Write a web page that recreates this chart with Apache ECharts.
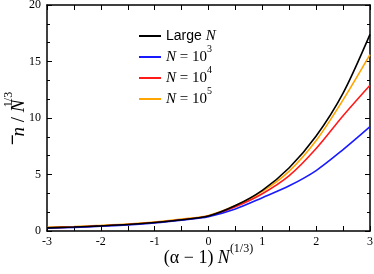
<!DOCTYPE html>
<html>
<head>
<meta charset="utf-8">
<script src="https://cdn.jsdelivr.net/npm/echarts@6/dist/echarts.min.js"></script>
<style>html,body{margin:0;padding:0;background:#fff;}#c{width:374px;height:274px;}</style>
</head>
<body>
<div id="c"></div>
<script>
// Data
const xs = [-3, -2.5, -2, -1.5, -1, -0.5, 0, 0.5, 1, 1.5, 2, 2.5, 3];
const largeN = [0.28, 0.35, 0.45, 0.57, 0.75, 1.0, 1.33, 2.25, 3.6, 5.6, 8.4, 12.2, 17.4];
const n1e3 = [0.25, 0.32, 0.42, 0.54, 0.71, 0.96, 1.27, 1.95, 2.95, 4.0, 5.35, 7.2, 9.23];
const n1e4 = [0.28, 0.35, 0.45, 0.57, 0.75, 1.0, 1.32, 2.15, 3.3, 4.9, 7.3, 10.2, 12.9];
const n1e5 = [0.33, 0.40, 0.50, 0.62, 0.80, 1.05, 1.38, 2.25, 3.5, 5.3, 8.0, 11.6, 15.6];
const seriesNames = ['Large N', 'N = 10^3', 'N = 10^4', 'N = 10^5'];
const seriesColors = ['#000000', '#1a1aff', '#ff1a1a', '#ffa500'];
const xTicks = [-3, -2, -1, 0, 1, 2, 3];
const yTicks = [0, 5, 10, 15, 20];

const allY = [largeN, n1e3, n1e4, n1e5];
const chart = echarts.init(document.getElementById('c'), null, {renderer: 'canvas'});
const serif = '"Liberation Serif", "DejaVu Serif", serif';
const sans = '"Liberation Sans", Arial, sans-serif';

function legendFmt(name) {
  if (name === 'Large N') return '{a|Large }{i|N}{s| }';
  const p = name.split('^')[1];
  return '{i|N}{t| = 10}{s|' + p + '}';
}

const axisCommon = {
  type: 'value',
  nameMoveOverlap: false,
  axisLine: {show: true, onZero: false, lineStyle: {color: '#000', width: 1.5}},
  axisTick: {show: true, inside: true, length: 5, lineStyle: {color: '#000', width: 1}},
  minorTick: {show: true, splitNumber: 2, length: 3, lineStyle: {color: '#000', width: 1}},
  splitLine: {show: false},
  minorSplitLine: {show: false}
};

const option = {
  backgroundColor: '#fff',
  animation: false,
  grid: {left: 47, right: 4, top: 5, bottom: 43, containLabel: false, outerBoundsMode: 'none'},
  legend: {
    orient: 'vertical',
    left: 134,
    top: 18,
    itemWidth: 22,
    itemHeight: 2,
    itemGap: -5,
    icon: 'rect',
    data: seriesNames,
    formatter: legendFmt,
    textStyle: {
      color: '#000',
      rich: {
        a: {fontFamily: sans, fontSize: 14, color: '#000', lineHeight: 19},
        i: {fontFamily: serif, fontStyle: 'italic', fontSize: 15, color: '#000', lineHeight: 19},
        t: {fontFamily: serif, fontSize: 15, color: '#000', lineHeight: 19},
        s: {fontFamily: serif, fontSize: 10, color: '#000', lineHeight: 19, padding: [0, 0, 16, 0]}
      }
    }
  },
  xAxis: [
    Object.assign({}, axisCommon, {
      min: -3, max: 3, interval: 1, position: 'bottom',
      minorTick: Object.assign({}, axisCommon.minorTick, {splitNumber: 2, length: 5}),
      axisLabel: {color: '#000', fontFamily: serif, fontSize: 12, margin: 5,
        formatter: v => xTicks.includes(v) ? String(v) : ''},
      name: '{p|(α − 1) }{i|N}{s|(1/3)}',
      nameLocation: 'middle',
      nameGap: 12,
      nameTextStyle: {rich: {
        p: {fontFamily: serif, fontSize: 18, color: '#000'},
        i: {fontFamily: serif, fontStyle: 'italic', fontSize: 18, color: '#000'},
        s: {fontFamily: serif, fontSize: 12, color: '#000', padding: [0, 0, 18, 0]}
      }}
    }),
    Object.assign({}, axisCommon, {
      min: -3, max: 3, interval: 1, position: 'top',
      minorTick: Object.assign({}, axisCommon.minorTick, {splitNumber: 2, length: 5}),
      axisLabel: {show: false}
    })
  ],
  yAxis: [
    Object.assign({}, axisCommon, {
      min: 0, max: 20, interval: 5, position: 'left',
      minorTick: Object.assign({}, axisCommon.minorTick, {splitNumber: 3, length: 3}),
      axisLabel: {color: '#000', fontFamily: serif, fontSize: 12, margin: 6,
        formatter: v => yTicks.includes(v) ? String(v) : ''},
      name: '{o| }{g| }{s|1/3}\n{i|n}{p| / }{i|N}',
      nameLocation: 'middle',
      nameRotate: 90,
      nameGap: 22,
      nameTextStyle: {rich: {
        o: {width: 9, height: 1.3, lineHeight: 9, backgroundColor: '#000', fontSize: 1, verticalAlign: 'bottom'},
        g: {width: 28, fontSize: 1, lineHeight: 9},
        s: {fontFamily: serif, fontSize: 12, color: '#000', lineHeight: 9},
        p: {fontFamily: serif, fontSize: 19, color: '#000', lineHeight: 12},
        i: {fontFamily: serif, fontStyle: 'italic', fontSize: 19, color: '#000', lineHeight: 12}
      }}
    }),
    Object.assign({}, axisCommon, {
      min: 0, max: 20, interval: 5, position: 'right',
      minorTick: Object.assign({}, axisCommon.minorTick, {splitNumber: 3, length: 3}),
      axisLabel: {show: false}
    })
  ],
  series: seriesNames.map((name, k) => ({
    name: name,
    type: 'line',
    xAxisIndex: 0,
    yAxisIndex: 0,
    showSymbol: false,
    smooth: 0.3,
    color: seriesColors[k],
    lineStyle: {color: seriesColors[k], width: 1.6},
    data: xs.map((x, i) => [x, allY[k][i]]),
    z: 4 - k
  }))
};
chart.setOption(option);
</script>
</body>
</html>
